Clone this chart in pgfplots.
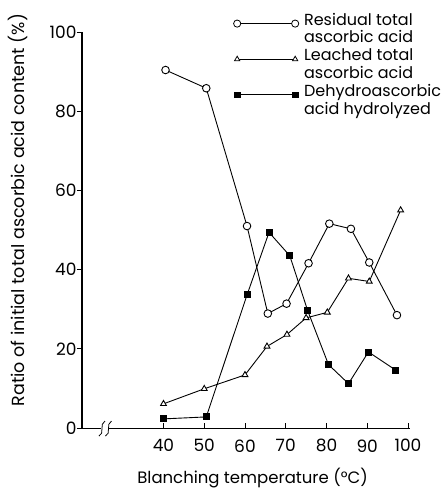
\documentclass[border=0pt]{standalone}
\usepackage{pgfplots}
\pgfplotsset{compat=1.18}
\usepackage{fontspec}
\setmainfont{Poppins}
\begin{document}
\begin{tikzpicture}
\begin{axis}[
    scale only axis,
    width=328bp, height=396bp,
    xmin=20, xmax=100.5,
    ymin=0, ymax=100,
    axis lines=left,
    axis line style={-},
    x axis line style={line width=1pt},
    y axis line style={line width=1.5pt},
    xtick={40,50,...,100},
    ytick={0,20,...,100},
    tick align=outside,
    major tick length=5bp,
    xtick style={yshift=5bp, line width=0.8pt, black},
    ytick style={line width=0.8pt, black},
    /pgf/number format/assume math mode=true,
    ticklabel style={font=\fontsize{17bp}{17bp}\selectfont},
    xticklabel style={yshift=-3bp},
    yticklabel style={xshift=3bp},
    xlabel={Blanching temperature (°C)},
    ylabel={Ratio of initial total ascorbic acid content (\%)},
    every axis x label/.style={at={(axis description cs:0.52,-0.126)}, anchor=center,
        font=\fontsize{16.5bp}{16.5bp}\selectfont},
    every axis y label/.style={at={(axis description cs:-0.195,0.55)}, anchor=center, rotate=90,
        font=\fontsize{17.5bp}{17.5bp}\selectfont},
    clip=false,
    legend style={at={(axis description cs:0.45,1.052)}, anchor=north west,
        draw=none, fill=none, font=\fontsize{16bp}{16bp}\selectfont,
        row sep=1.8bp, nodes={inner sep=0.5bp, text height=11bp, text depth=4bp}},
    legend cell align=left,
    legend image code/.code={\draw[#1, yshift=-2bp] plot coordinates {(0bp,0bp) (58bp,0bp)};
        \path (-4bp,0bp) (66bp,0bp);},
]
% legend, two lines per series
\addlegendimage{black, line width=0.8pt, mark=*, mark size=3.6bp, mark options={fill=white}}
\addlegendentry{Residual total}
\addlegendimage{empty legend}
\addlegendentry{ascorbic acid}
\addlegendimage{black, line width=0.8pt, mark=triangle*, mark size=3bp, mark options={fill=white}}
\addlegendentry{Leached total}
\addlegendimage{empty legend}
\addlegendentry{ascorbic acid}
\addlegendimage{black, line width=0.8pt, mark=square*, mark size=2.8bp}
\addlegendentry{Dehydroascorbic}
\addlegendimage{empty legend}
\addlegendentry{acid hydrolyzed}

% Residual total ascorbic acid
\addplot[black, line width=0.9pt, mark=*, mark size=3.8bp, mark options={fill=white}, forget plot] coordinates {
    (40.5,90.4) (50.5,85.8) (60.5,51) (65.6,28.9) (70.2,31.4)
    (75.6,41.6) (80.7,51.6) (86,50.3) (90.5,41.8) (97.3,28.5)
};
% Leached total ascorbic acid
\addplot[black, line width=0.9pt, mark=triangle*, mark size=3.4bp, mark options={fill=white}, forget plot] coordinates {
    (40,6.1) (50,9.9) (60,13.4) (65.4,20.6) (70.3,23.6)
    (75,27.8) (80.2,29.2) (85.4,37.8) (90.5,37) (98.2,55)
};
% Dehydroascorbic acid hydrolyzed
\addplot[black, line width=0.9pt, mark=square*, mark size=3bp, forget plot] coordinates {
    (40,2.3) (50.5,2.8) (60.5,33.6) (65.9,49.4) (71,43.5)
    (75.4,29.6) (80.5,16) (85.4,11.2) (90.3,19.2) (97,14.6)
};

% axis break
\fill[white] ([yshift=-2bp]axis cs:24.7,0) rectangle ([yshift=2bp]axis cs:26.7,0);
\draw[line width=0.8pt] ([xshift=-3bp,yshift=-8bp]axis cs:24.9,0) .. controls +(6bp,2bp) and +(-6bp,-3bp) .. ([xshift=3bp,yshift=7bp]axis cs:24.9,0);
\draw[line width=0.8pt] ([xshift=-3bp,yshift=-8bp]axis cs:26.5,0) .. controls +(6bp,2bp) and +(-6bp,-3bp) .. ([xshift=3bp,yshift=7bp]axis cs:26.5,0);
\end{axis}
\pgfresetboundingbox
\path (-82bp,-60bp) rectangle (359bp,428bp);
\end{tikzpicture}
\end{document}
